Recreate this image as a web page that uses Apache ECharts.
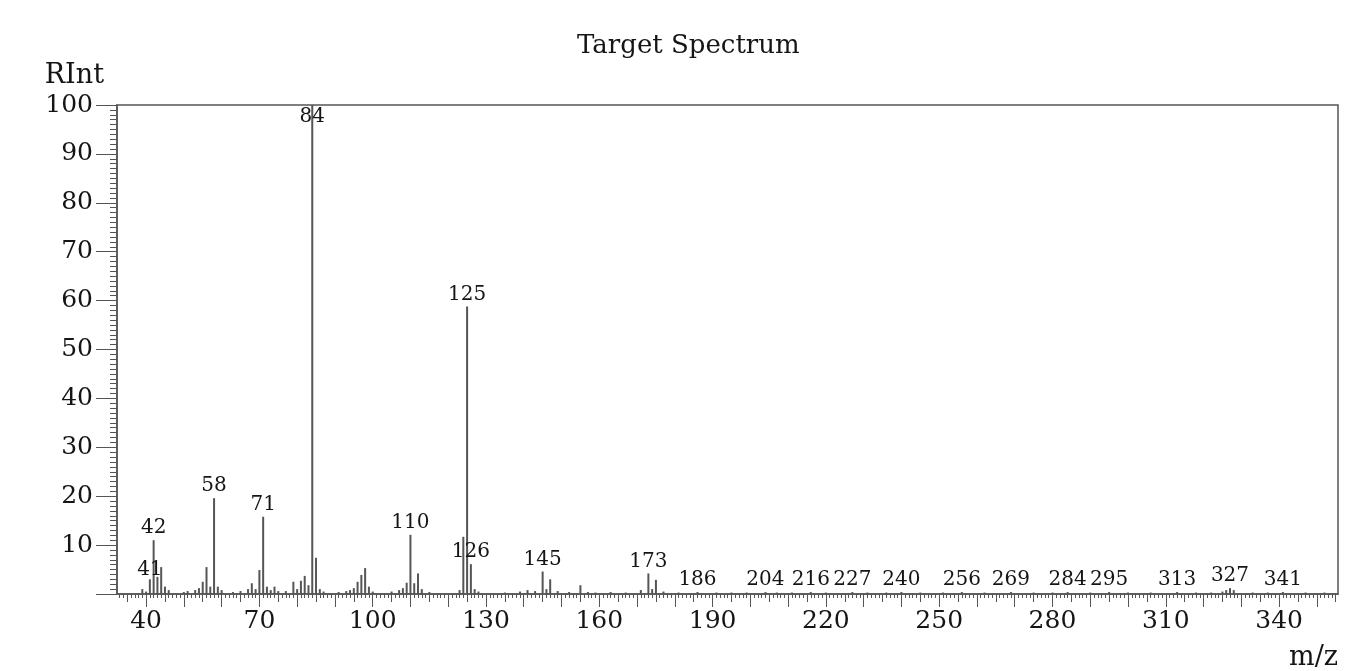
<!DOCTYPE html>
<html>
<head>
<meta charset="utf-8">
<title>Target Spectrum</title>
<script src="https://cdn.jsdelivr.net/npm/echarts@6/dist/echarts.min.js"></script>
<style>
  html, body { margin: 0; padding: 0; background: #fff; }
  #chart { width: 1372px; height: 671px; }
</style>
</head>
<body>
<div id="chart"></div>
<script>
// 质荷比 m/z
const mzValues = [
  39, 40, 41, 42, 43, 44, 45, 46, 50, 51, 53, 54, 55, 56, 57, 58, 59, 60, 63, 65,
  67, 68, 69, 70, 71, 72, 73, 74, 75, 77, 79, 80, 81, 82, 83, 84, 85, 86, 87, 91,
  93, 94, 95, 96, 97, 98, 99, 100, 105, 107, 108, 109, 110, 111, 112, 113, 115, 123, 124, 125,
  126, 127, 128, 135, 139, 141, 143, 145, 146, 147, 149, 152, 155, 157, 159, 163, 167, 171, 173, 174,
  175, 177, 181, 186, 191, 195, 199, 204, 207, 211, 216, 220, 227, 231, 236, 240, 245, 251, 256, 262,
  269, 275, 280, 284, 290, 295, 300, 306, 313, 318, 322, 325, 326, 327, 328, 333, 337, 341, 347, 352
];
// 相对强度 RInt
const intensities = [
  1.0, 0.5, 3.0, 11.0, 3.5, 5.5, 1.5, 0.8, 0.4, 0.6, 0.8, 1.2, 2.5, 5.5, 1.5, 19.6, 1.5, 0.8, 0.4, 0.6,
  1.0, 2.2, 1.0, 4.9, 15.8, 1.5, 0.8, 1.5, 0.6, 0.6, 2.5, 1.0, 2.7, 3.7, 1.8, 100, 7.4, 1.0, 0.5, 0.4,
  0.6, 0.8, 1.2, 2.5, 3.9, 5.3, 1.5, 0.5, 0.5, 0.8, 1.2, 2.3, 12.1, 2.2, 4.2, 1.0, 0.4, 0.8, 11.7, 58.8,
  6.1, 1.0, 0.5, 0.3, 0.5, 0.8, 0.6, 4.6, 1.0, 3.0, 0.6, 0.4, 1.8, 0.4, 0.3, 0.4, 0.3, 0.8, 4.2, 1.0,
  2.9, 0.5, 0.3, 0.4, 0.3, 0.3, 0.3, 0.4, 0.3, 0.3, 0.4, 0.3, 0.4, 0.3, 0.3, 0.4, 0.3, 0.3, 0.4, 0.3,
  0.4, 0.3, 0.3, 0.4, 0.3, 0.4, 0.3, 0.3, 0.4, 0.3, 0.3, 0.5, 0.8, 1.2, 0.8, 0.3, 0.3, 0.4, 0.3, 0.3
];
// 需要标注的峰
const labeledPeaks = [41, 42, 58, 71, 84, 110, 125, 126, 145, 173, 186, 204, 216, 227, 240, 256, 269, 284, 295, 313, 327, 341];
// 坐标轴刻度标签
const xTickLabels = [40, 70, 100, 130, 160, 190, 220, 250, 280, 310, 340];
const yTickLabels = [10, 20, 30, 40, 50, 60, 70, 80, 90, 100];

const FONT = "DejaVu Serif";
const TEXT_COLOR = "#151515";
const LINE_COLOR = "#555";
const X_MIN = 32.3;
const X_MAX = 355.6;

// 刻度：每10长、每5中、每1短
const majorTicks = [];
const midTicks = [];
const minorTicks = [];
for (let v = 33; v <= 355; v++) {
  if (v % 10 === 0) majorTicks.push(v);
  else if (v % 5 === 0) midTicks.push(v);
  else minorTicks.push(v);
}

// 柱状数据
const barData = mzValues.map((mz, i) => {
  const item = { value: [mz, intensities[i]] };
  if (labeledPeaks.indexOf(mz) > -1) {
    item.label = {
      show: true,
      position: intensities[i] >= 99 ? "insideTop" : "top",
      distance: mz === 41 ? 0 : 2,
      formatter: String(mz)
    };
  }
  return item;
});

function tickAxis(values, length) {
  return {
    type: "value",
    min: X_MIN,
    max: X_MAX,
    position: "bottom",
    axisLine: { show: false },
    axisTick: {
      show: true,
      customValues: values,
      length: length,
      lineStyle: { color: LINE_COLOR, width: 1 }
    },
    axisLabel: { show: false },
    splitLine: { show: false }
  };
}

const chart = echarts.init(document.getElementById("chart"));
const option = {
  backgroundColor: "#fff",
  animation: false,
  title: {
    text: "Target Spectrum",
    left: 577,
    top: 33,
    padding: 0,
    textStyle: { fontFamily: FONT, fontSize: 26, fontWeight: "normal", color: TEXT_COLOR }
  },
  grid: {
    left: 117,
    right: 34,
    top: 105,
    bottom: 77,
    show: true,
    borderColor: LINE_COLOR,
    borderWidth: 1.5,
    containLabel: false
  },
  xAxis: [
    {
      type: "value",
      min: X_MIN,
      max: X_MAX,
      position: "bottom",
      name: "m/z",
      nameLocation: "end",
      nameGap: 0,
      nameTextStyle: {
        fontFamily: FONT, fontSize: 27, color: TEXT_COLOR,
        align: "right", verticalAlign: "top", padding: [50, 0, 0, 0]
      },
      axisLine: { show: true, lineStyle: { color: LINE_COLOR, width: 1.5 } },
      axisTick: {
        show: true,
        customValues: majorTicks,
        length: 13,
        lineStyle: { color: LINE_COLOR, width: 1 }
      },
      axisLabel: {
        customValues: xTickLabels,
        margin: 15,
        fontFamily: FONT,
        fontSize: 25,
        color: TEXT_COLOR
      },
      splitLine: { show: false }
    },
    tickAxis(midTicks, 8),
    tickAxis(minorTicks, 4)
  ],
  yAxis: {
    type: "value",
    min: 0,
    max: 100,
    interval: 10,
    name: "RInt",
    nameLocation: "end",
    nameGap: 16,
    nameTextStyle: {
      fontFamily: FONT, fontSize: 27, color: TEXT_COLOR,
      align: "right", padding: [0, 13, 0, 0]
    },
    axisLine: { show: true, lineStyle: { color: LINE_COLOR, width: 1.5 } },
    axisTick: { show: true, length: 21, lineStyle: { color: LINE_COLOR, width: 1 } },
    minorTick: { show: true, splitNumber: 10, length: 7, lineStyle: { color: LINE_COLOR, width: 1 } },
    axisLabel: {
      customValues: yTickLabels,
      margin: 24,
      fontFamily: FONT,
      fontSize: 25,
      color: TEXT_COLOR
    },
    splitLine: { show: false },
    minorSplitLine: { show: false }
  },
  series: [
    {
      type: "bar",
      xAxisIndex: 0,
      yAxisIndex: 0,
      barWidth: 2,
      itemStyle: { color: "#555" },
      label: { show: false, fontFamily: FONT, fontSize: 20, color: TEXT_COLOR },
      data: barData,
      z: 3
    }
  ]
};
chart.setOption(option);
</script>
</body>
</html>
